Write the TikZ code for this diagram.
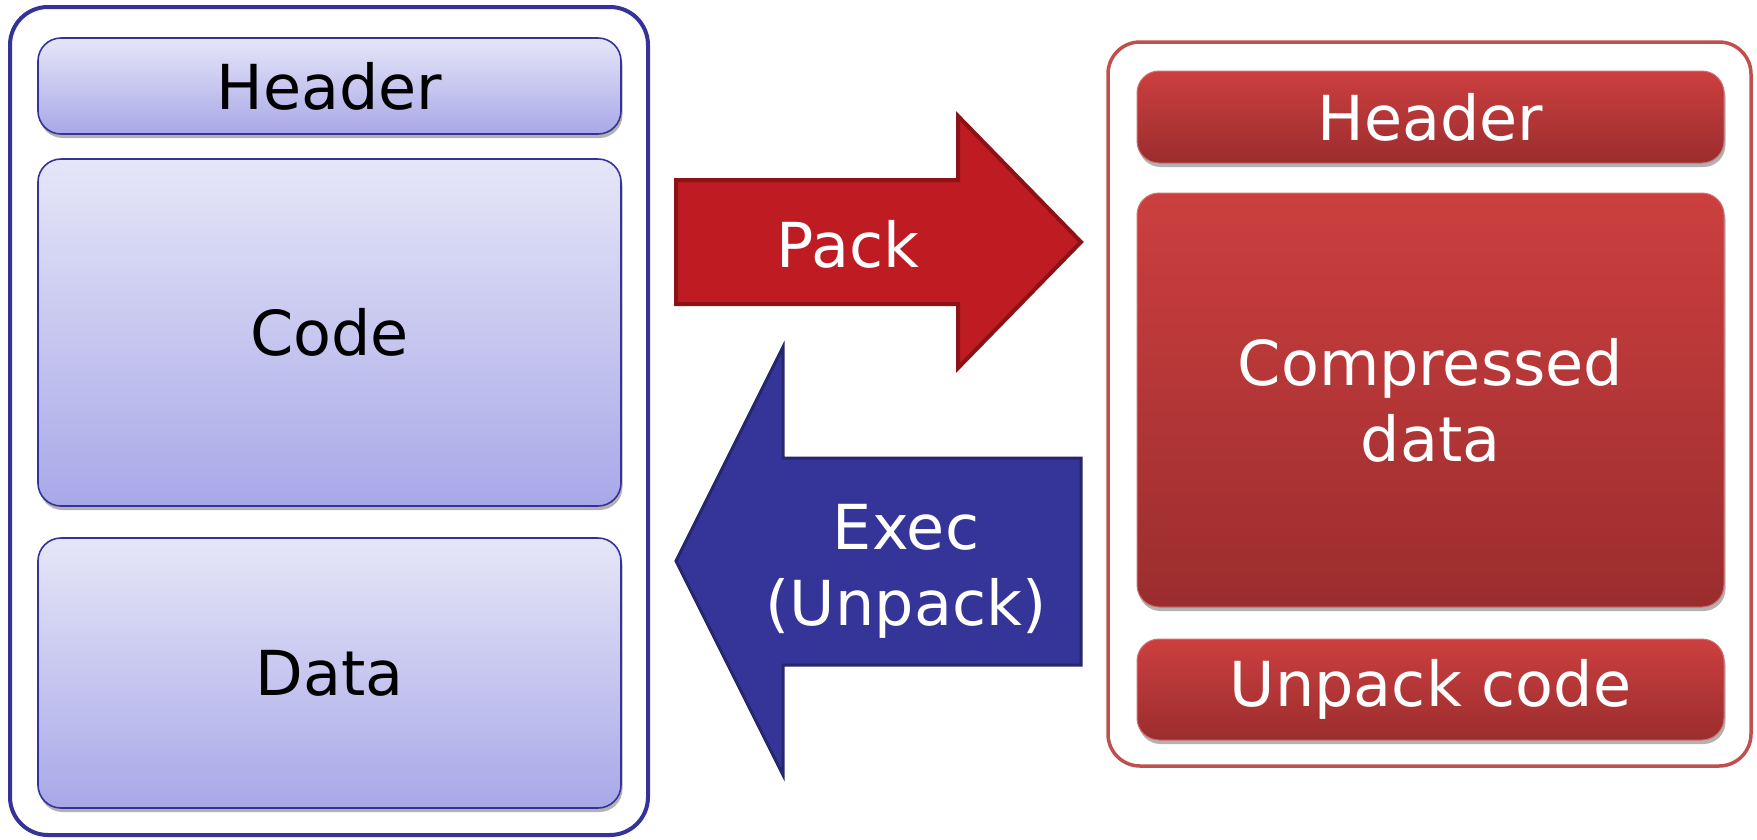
\documentclass[tikz,border=0pt]{standalone}
\usepackage{fontspec}
\setmainfont{DejaVu Sans}
\usetikzlibrary{shadows}
\definecolor{lborder}{HTML}{333399}
\definecolor{ltop}{HTML}{E6E6F8}
\definecolor{lbot}{HTML}{A8A8E8}
\definecolor{rborder}{HTML}{C0504D}
\definecolor{rtop}{HTML}{CC3F3F}
\definecolor{rbot}{HTML}{9B2D2E}
\definecolor{packfill}{HTML}{BE1B22}
\definecolor{packline}{HTML}{8C1216}
\definecolor{execfill}{HTML}{353599}
\definecolor{execline}{HTML}{26266F}
\tikzset{
  bigtext/.style={font=\fontsize{62}{76}\selectfont},
  outerL/.style={draw=lborder, line width=4pt, rounded corners=38pt, fill=white, inner sep=0pt},
  outerR/.style={draw=rborder, line width=3.5pt, rounded corners=32pt, fill=white, inner sep=0pt},
  lbox/.style={draw=lborder, line width=1.6pt, rounded corners=23pt, top color=ltop, bottom color=lbot,
    drop shadow={shadow xshift=1.5pt, shadow yshift=-4pt, opacity=0.3, fill=black},
    minimum width=583pt, inner sep=0pt, bigtext, text=black, align=center},
  rbox/.style={draw=rborder!80!white, line width=1pt, rounded corners=22pt, top color=rtop, bottom color=rbot,
    drop shadow={shadow xshift=1.5pt, shadow yshift=-4pt, opacity=0.3, fill=black},
    minimum width=587pt, inner sep=0pt, bigtext, text=white, align=center},
  packarrow/.style={fill=packfill, draw=packline, line width=4pt, line join=miter},
  execarrow/.style={fill=execfill, draw=execline, line width=3pt, line join=miter},
  arrowlabel/.style={bigtext, text=white, align=center, inner sep=0pt}
}
\begin{document}
\begin{tikzpicture}[x=1pt, y=-1pt]
\useasboundingbox (0,0) rectangle (1757,839);
% left block
\node[outerL, minimum width=638pt, minimum height=828pt] (L) at (329,421) {};
\node[lbox, minimum height=96pt] (lh) at (329.5,86) {Header};
\node[lbox, minimum height=347pt] (lc) at (329.5,332.5) {Code};
\node[lbox, minimum height=270pt] (ld) at (329.5,673) {Data};
% right block
\node[outerR, minimum width=643pt, minimum height=724pt] (R) at (1429.5,404) {};
\node[rbox, minimum height=92pt] (rh) at (1430.5,117) {Header};
\node[rbox, minimum height=414pt] (rc) at (1430.5,400) {Compressed\\data};
\node[rbox, minimum height=101pt] (ru) at (1430.5,689.5) {Unpack code};
% Pack arrow
\coordinate (p1) at (676,180);
\coordinate (p2) at (958,180);
\coordinate (p3) at (958,116);
\coordinate (p4) at (1081,242);
\coordinate (p5) at (958,368);
\coordinate (p6) at (958,304);
\coordinate (p7) at (676,304);
\draw[packarrow] (p1) -- (p2) -- (p3) -- (p4) -- (p5) -- (p6) -- (p7) -- cycle;
\node[arrowlabel] (pack) at (848,244) {Pack};
% Exec arrow
\coordinate (e1) at (676,561);
\coordinate (e2) at (783,347);
\coordinate (e3) at (783,458);
\coordinate (e4) at (1081,458);
\coordinate (e5) at (1081,665);
\coordinate (e6) at (783,665);
\coordinate (e7) at (783,775);
\draw[execarrow] (e1) -- (e2) -- (e3) -- (e4) -- (e5) -- (e6) -- (e7) -- cycle;
\node[arrowlabel] (exec) at (906,571) {Exec\\(Unpack)};
\end{tikzpicture}
\end{document}
